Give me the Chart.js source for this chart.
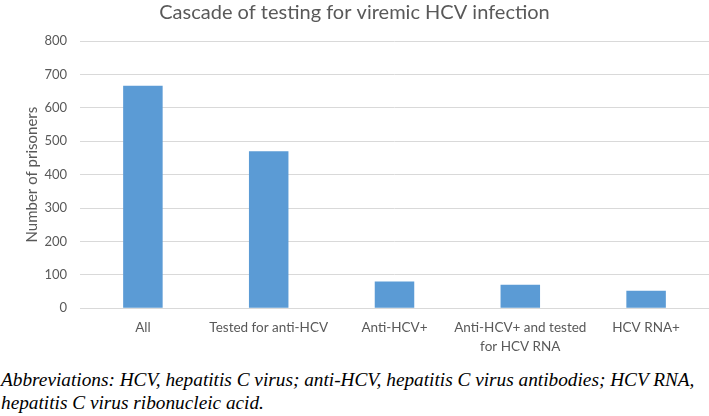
<!DOCTYPE html>
<html>
<head>
<meta charset="utf-8">
<script src="https://cdn.jsdelivr.net/npm/chart.js@4/dist/chart.umd.min.js"></script>
<style>
    body { margin: 0; background: #fff; width: 709px; height: 416px; position: relative; overflow: hidden; }
    #wrap { position: absolute; left: 0; top: 0; width: 709px; height: 356px; }
    #caption {
        position: absolute; left: 1px; top: 368px; width: 709px;
        font-family: "Liberation Serif", "DejaVu Serif", serif;
        font-style: italic; font-size: 19.3px; line-height: 23px; color: #000;
        white-space: nowrap;
    }
</style>
</head>
<body>
<div id="wrap"><canvas id="cascadeChart"></canvas></div>
<div id="caption">Abbreviations: HCV, hepatitis C virus; anti-HCV, hepatitis C virus antibodies; HCV RNA,<br>hepatitis C virus ribonucleic acid.</div>
<script>
// Chart data
const categories = ['All', 'Tested for anti-HCV', 'Anti-HCV+', ['Anti-HCV+ and tested', 'for HCV RNA'], 'HCV RNA+'];
const prisoners = [666, 470, 80, 70, 52];
const yTicks = [0, 100, 200, 300, 400, 500, 600, 700, 800];

const textGray = '#595959';
const gridGray = '#d9d9d9';

const ctx = document.getElementById('cascadeChart').getContext('2d');
new Chart(ctx, {
    type: 'bar',
    data: {
        labels: categories,
        datasets: [{
            label: 'Number of prisoners',
            data: prisoners,
            backgroundColor: '#5b9bd5',
            borderWidth: 0,
            barPercentage: 0.314,
            categoryPercentage: 1
        }]
    },
    options: {
        responsive: true,
        maintainAspectRatio: false,
        animation: false,
        // the x axis reserves a bit more room than its labels need
        layout: { padding: { left: 0, right: 0, top: 0, bottom: -10 } },
        scales: {
            x: {
                grid: { display: false, drawTicks: false },
                border: { display: true, color: gridGray },
                ticks: {
                    color: textGray,
                    padding: 10,
                    maxRotation: 0,
                    autoSkip: false,
                    font: { family: 'Lato', size: 13.5, lineHeight: 1.4 }
                }
            },
            y: {
                min: 0,
                max: 800,
                afterBuildTicks: function(scale) {
                    scale.ticks = yTicks.map(v => ({ value: v }));
                },
                afterFit: function(scale) {
                    scale.width = 80;
                },
                grid: { color: gridGray, drawTicks: false },
                border: { display: false },
                ticks: {
                    color: textGray,
                    padding: 13,
                    font: { family: 'Lato', size: 13 }
                },
                title: {
                    display: true,
                    text: 'Number of prisoners',
                    color: textGray,
                    padding: { top: 23, bottom: 0 },
                    font: { family: 'Lato', size: 15, lineHeight: 1.2 }
                }
            }
        },
        plugins: {
            legend: { display: false },
            tooltip: { enabled: false },
            title: {
                display: true,
                text: 'Cascade of testing for viremic HCV infection',
                color: textGray,
                padding: { top: 1, bottom: 16 },
                font: { family: 'Lato', size: 20, weight: 'normal', lineHeight: 1.2 }
            }
        }
    }
});
</script>
</body>
</html>
